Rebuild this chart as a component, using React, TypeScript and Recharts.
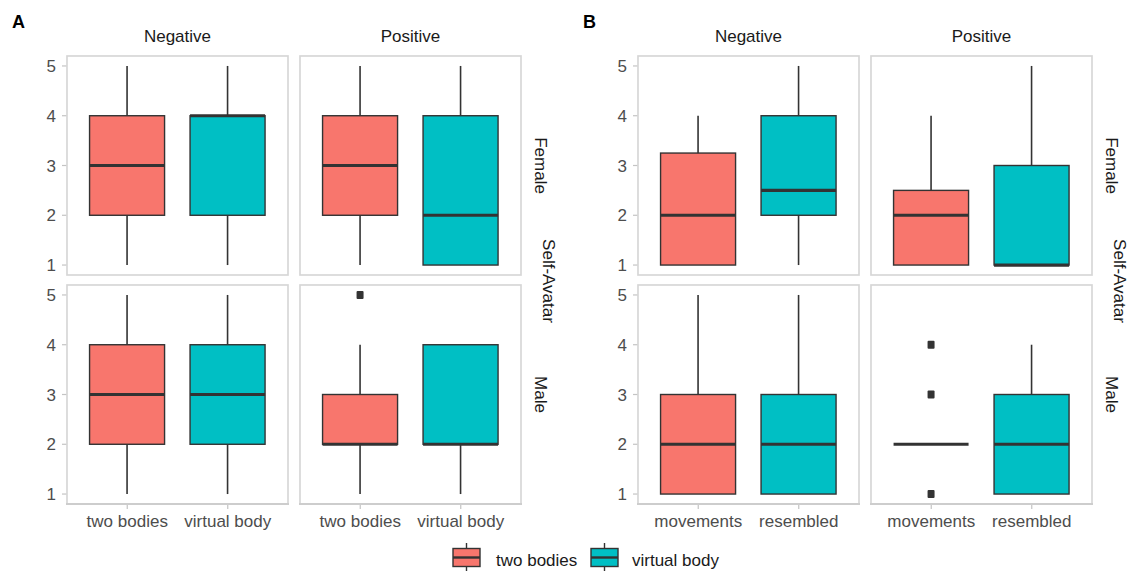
import React from "react";
import { ComposedChart, Bar, XAxis, YAxis } from "recharts";

const FONT = "'Liberation Sans', Arial, Helvetica, sans-serif";

// ---------- data ----------
const fillGroups = ["two bodies", "virtual body"];
const fillColors = ["#F8766D", "#00BFC4"];
const catsA = ["two bodies", "virtual body"];
const catsB = ["movements", "resembled"];
const colLabels = ["Negative", "Positive"];
const rowLabels = ["Female", "Male"];
const outerRowLabel = "Self-Avatar";
const panelTags = ["A", "B"];
const yTicks = [1, 2, 3, 4, 5];
const yDomain: [number, number] = [0.8, 5.2];

// [lower whisker, Q1, median, Q3, upper whisker] for each category
const aNegFemale = [[1, 2, 3, 4, 5], [1, 2, 4, 4, 5]];
const aPosFemale = [[1, 2, 3, 4, 5], [1, 1, 2, 4, 5]];
const aNegMale = [[1, 2, 3, 4, 5], [1, 2, 3, 4, 5]];
const aPosMale = [[1, 2, 2, 3, 4], [1, 2, 2, 4, 4]];
const bNegFemale = [[1, 1, 2, 3.25, 4], [1, 2, 2.5, 4, 5]];
const bPosFemale = [[1, 1, 2, 2.5, 4], [1, 1, 1, 3, 5]];
const bNegMale = [[1, 1, 2, 3, 5], [1, 1, 2, 3, 5]];
const bPosMale = [[2, 2, 2, 2, 2], [1, 1, 2, 3, 4]];

// outliers for each category
const noOut: number[][] = [[], []];
const aPosMaleOut = [[5], []];
const bPosMaleOut = [[1, 3, 4], []];

// ---------- layout ----------
const W = 1128;
const H = 571;
const PW = 221;
const PH = 219;
const rowTops = [56, 285];
const panelLefts = [
  [67, 300],
  [638, 871],
];
const YW = 60;
const XH = 40;
const INK = "#333333";
const BORDER = "#D7D7D7";
const TICKC = "#C4C4C4";
const LABC = "#4D4D4D";

const okNum = (...v: any[]) => v.every((n) => typeof n === "number" && Number.isFinite(n));

const WhiskerShape = (p: any) => {
  const { x, y, width, height } = p;
  if (!okNum(x, y, width, height)) return <g />;
  const cx = x + width / 2;
  const t = Math.min(y, y + height);
  const b = Math.max(y, y + height);
  if (b - t < 0.5) return <g />;
  return <line x1={cx} x2={cx} y1={t} y2={b} stroke={INK} strokeWidth={1.6} />;
};

const BoxShape = (p: any) => {
  const { x, y, width, height, payload } = p;
  if (!okNum(x, y, width, height)) return <g />;
  const t = Math.min(y, y + height);
  const h = Math.abs(height);
  return (
    <rect x={x} y={t} width={width} height={h} fill={payload.fill} stroke={INK} strokeWidth={1.4} />
  );
};

const MedianShape = (p: any) => {
  const { x, y, width, height } = p;
  if (!okNum(x, y, width, height)) return <g />;
  const yy = y + height / 2;
  return <line x1={x} x2={x + width} y1={yy} y2={yy} stroke={INK} strokeWidth={3.2} />;
};

const makeOutShape = (k: number) => (p: any) => {
  const { x, y, width, height, payload } = p;
  if (!payload || !payload.outs || payload.outs.length <= k) return <g />;
  if (!okNum(x, y, width, height)) return <g />;
  const cx = x + width / 2;
  const cy = y + height / 2;
  return <rect x={cx - 3.5} y={cy - 4} width={7} height={8} rx={1} fill={INK} />;
};
const outShapes = [0, 1, 2].map((k) => makeOutShape(k));

type FacetProps = {
  left: number;
  top: number;
  cats: string[];
  stats: number[][];
  outs: number[][];
  showY: boolean;
  showX: boolean;
};

function Facet({ left, top, cats, stats, outs, showY, showX }: FacetProps) {
  const data = cats.map((c, i) => ({
    cat: c,
    min: stats[i][0],
    q1: stats[i][1],
    med: stats[i][2],
    q3: stats[i][3],
    max: stats[i][4],
    fill: fillColors[i],
    group: fillGroups[i],
    outs: outs[i],
  }));
  const cw = PW + (showY ? YW : 0);
  const ch = PH + (showX ? XH : 0);
  const axisIds = ["w", "b", "m", "o0", "o1", "o2"];
  return (
    <div style={{ position: "absolute", left: left - (showY ? YW : 0), top }}>
      <ComposedChart
        width={cw}
        height={ch}
        data={data}
        margin={{ top: 0, right: 0, bottom: 0, left: 0 }}
        barCategoryGap="12.5%"
      >
        {axisIds.map((id, i) => {
          const visible = showX && i === 0;
          return (
            <XAxis
              key={id}
              xAxisId={id}
              dataKey="cat"
              type="category"
              padding={{ left: 10, right: 10 }}
              hide={!visible}
              height={visible ? XH : 0}
              axisLine={false}
              tickLine={{ stroke: TICKC, strokeWidth: 1.2 }}
              tickSize={5}
              tickMargin={6}
              interval={0}
              tick={{ fontSize: 17, fill: LABC, fontFamily: FONT }}
            />
          );
        })}
        <YAxis
          type="number"
          domain={yDomain}
          ticks={yTicks}
          interval={0}
          hide={!showY}
          width={showY ? YW : 0}
          axisLine={false}
          tickLine={{ stroke: TICKC, strokeWidth: 1.2 }}
          tickSize={5}
          tickMargin={6}
          tick={{ fontSize: 17, fill: LABC, fontFamily: FONT }}
        />
        <Bar xAxisId="w" dataKey={(d: any) => [d.min, d.max]} shape={WhiskerShape} isAnimationActive={false} />
        <Bar xAxisId="b" dataKey={(d: any) => [d.q1, d.q3]} shape={BoxShape} isAnimationActive={false} />
        <Bar xAxisId="m" dataKey={(d: any) => [d.med, d.med]} shape={MedianShape} isAnimationActive={false} />
        {[0, 1, 2].map((k) => (
          <Bar
            key={"o" + k}
            xAxisId={"o" + k}
            dataKey={(d: any) => (d.outs.length > k ? [d.outs[k], d.outs[k]] : [d.med, d.med])}
            shape={outShapes[k]}
            isAnimationActive={false}
          />
        ))}
      </ComposedChart>
    </div>
  );
}

const panelStats = [
  [
    [aNegFemale, aPosFemale],
    [aNegMale, aPosMale],
  ],
  [
    [bNegFemale, bPosFemale],
    [bNegMale, bPosMale],
  ],
];
const panelOuts = [
  [
    [noOut, noOut],
    [noOut, aPosMaleOut],
  ],
  [
    [noOut, noOut],
    [noOut, bPosMaleOut],
  ],
];
const panelCats = [catsA, catsB];

export default function App() {
  const facets: React.ReactNode[] = [];
  const overlay: React.ReactNode[] = [];
  for (let p = 0; p < 2; p++) {
    for (let r = 0; r < 2; r++) {
      for (let c = 0; c < 2; c++) {
        const left = panelLefts[p][c];
        const top = rowTops[r];
        facets.push(
          <Facet
            key={`f${p}${r}${c}`}
            left={left}
            top={top}
            cats={panelCats[p]}
            stats={panelStats[p][r][c]}
            outs={panelOuts[p][r][c]}
            showY={c === 0}
            showX={r === 1}
          />
        );
        overlay.push(
          <rect
            key={`br${p}${r}${c}`}
            x={left}
            y={top}
            width={PW}
            height={PH}
            fill="none"
            stroke={BORDER}
            strokeWidth={1.7}
          />
        );
        if (r === 1) {
          overlay.push(
            <line
              key={`ax${p}${c}`}
              x1={left - 1}
              x2={left + PW + 1}
              y1={top + PH}
              y2={top + PH}
              stroke="#CDCDCD"
              strokeWidth={2.2}
            />
          );
        }
      }
    }
    // column strips
    for (let c = 0; c < 2; c++) {
      overlay.push(
        <text
          key={`cs${p}${c}`}
          x={panelLefts[p][c] + PW / 2}
          y={42}
          textAnchor="middle"
          fontSize={17}
          fill="#1A1A1A"
          fontFamily={FONT}
        >
          {colLabels[c]}
        </text>
      );
    }
    // row strips
    const rx = panelLefts[p][1] + PW;
    for (let r = 0; r < 2; r++) {
      const cy = rowTops[r] + PH / 2;
      overlay.push(
        <text
          key={`rs${p}${r}`}
          x={rx + 19}
          y={cy}
          transform={`rotate(90 ${rx + 19} ${cy})`}
          textAnchor="middle"
          dominantBaseline="central"
          fontSize={17}
          fill="#1A1A1A"
          fontFamily={FONT}
        >
          {rowLabels[r]}
        </text>
      );
    }
    const oy = (rowTops[0] + PH + rowTops[1]) / 2 + 1;
    overlay.push(
      <text
        key={`os${p}`}
        x={rx + 27}
        y={oy}
        transform={`rotate(90 ${rx + 27} ${oy})`}
        textAnchor="middle"
        dominantBaseline="central"
        fontSize={17}
        fill="#1A1A1A"
        fontFamily={FONT}
      >
        {outerRowLabel}
      </text>
    );
    overlay.push(
      <text
        key={`tag${p}`}
        x={p === 0 ? 12 : 583}
        y={28}
        fontSize={18}
        fontWeight="bold"
        fill="#000"
        fontFamily={FONT}
      >
        {panelTags[p]}
      </text>
    );
  }

  // legend
  const legendX = [453, 591];
  const legendTextX = [496, 632];
  fillGroups.forEach((g, i) => {
    const x = legendX[i];
    overlay.push(
      <g key={`lg${i}`}>
        <line x1={x + 13.5} x2={x + 13.5} y1={543} y2={571} stroke={INK} strokeWidth={1.4} />
        <rect x={x} y={548.5} width={27} height={18} fill={fillColors[i]} stroke={INK} strokeWidth={1.4} />
        <line x1={x} x2={x + 27} y1={557.5} y2={557.5} stroke={INK} strokeWidth={2.4} />
        <text x={legendTextX[i]} y={565.5} fontSize={17} fill="#1A1A1A" fontFamily={FONT}>
          {g}
        </text>
      </g>
    );
  });

  return (
    <div
      style={{
        position: "absolute",
        left: 0,
        top: 0,
        width: W,
        height: H,
        background: "#FFFFFF",
        overflow: "hidden",
        fontFamily: FONT,
      }}
    >
      {facets}
      <svg
        width={W}
        height={H}
        style={{ position: "absolute", left: 0, top: 0, pointerEvents: "none" }}
      >
        {overlay}
      </svg>
    </div>
  );
}
